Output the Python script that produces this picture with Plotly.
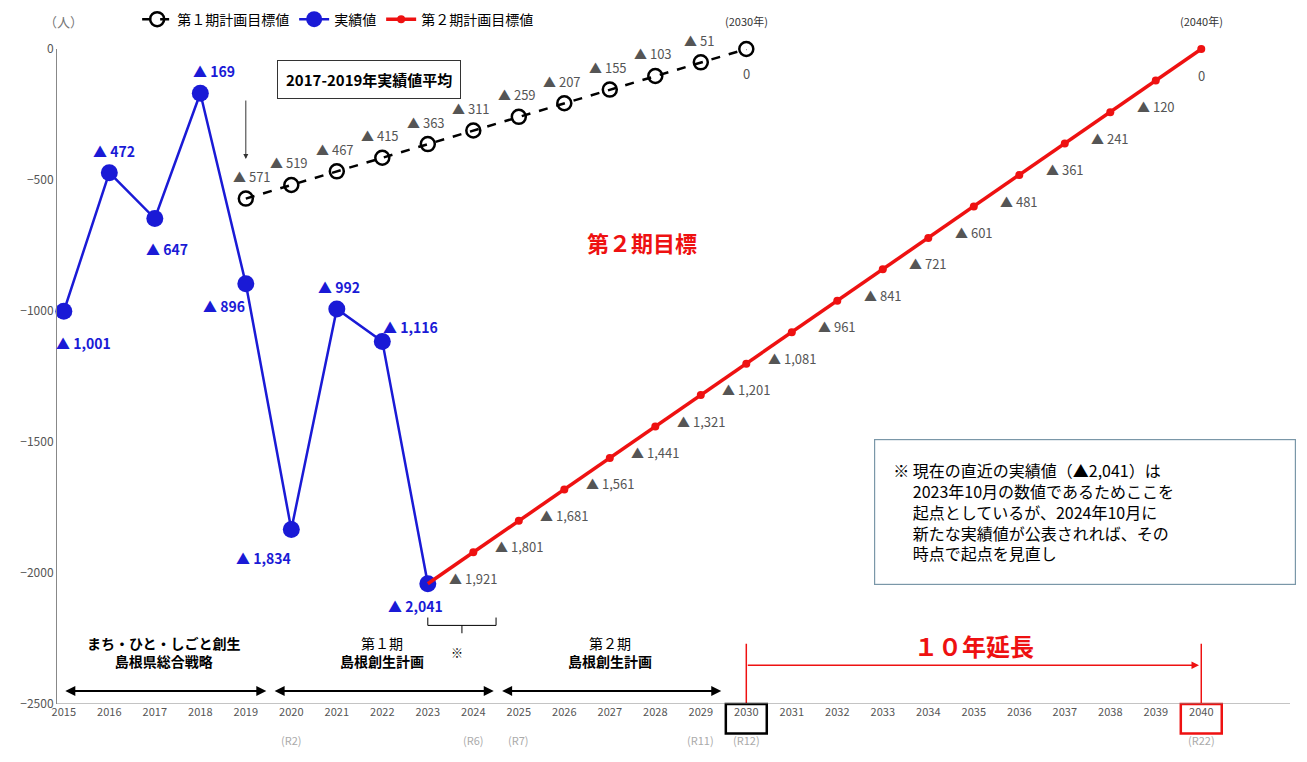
import plotly.graph_objects as go

FONT = "Noto Sans CJK JP"

act_years = [2015, 2016, 2017, 2018, 2019, 2020, 2021, 2022, 2023]
act_vals = [-1001, -472, -647, -169, -896, -1834, -992, -1116, -2041]
act_labels = ["▲ 1,001", "▲ 472", "▲ 647", "▲ 169", "▲ 896", "▲ 1,834", "▲ 992", "▲ 1,116", "▲ 2,041"]
act_shift = [(20, -32), (5, 22), (12, -30), (14, 22), (-22, -22), (-28, -28), (2, 22), (28, 14), (-12, -22)]

p1_years = list(range(2019, 2031))
p1_vals = [-571, -519, -467, -415, -363, -311, -259, -207, -155, -103, -51, 0]
p1_labels = ["▲ 571", "▲ 519", "▲ 467", "▲ 415", "▲ 363", "▲ 311", "▲ 259", "▲ 207", "▲ 155", "▲ 103", "▲ 51", "0"]

p2_years = list(range(2023, 2041))
p2_vals = [-2041, -1921, -1801, -1681, -1561, -1441, -1321, -1201, -1081, -961, -841, -721, -601, -481, -361, -241, -120, 0]
p2_labels = [None, "▲ 1,921", "▲ 1,801", "▲ 1,681", "▲ 1,561", "▲ 1,441", "▲ 1,321", "▲ 1,201", "▲ 1,081",
             "▲ 961", "▲ 841", "▲ 721", "▲ 601", "▲ 481", "▲ 361", "▲ 241", "▲ 120", "0"]

reiwa = {2020: "(R2)", 2024: "(R6)", 2025: "(R7)", 2029: "(R11)", 2030: "(R12)", 2040: "(R22)"}

fig = go.Figure()
fig.add_trace(go.Scatter(x=p1_years, y=p1_vals, mode="lines+markers", name="第１期計画目標値",
                         line=dict(color="black", width=2.5, dash="dash"),
                         marker=dict(symbol="circle-open", size=14, color="black", line=dict(width=2.5)),
                         cliponaxis=False))
fig.add_trace(go.Scatter(x=act_years, y=act_vals, mode="lines+markers", name="実績値",
                         line=dict(color="#1a1ad6", width=2.5), marker=dict(size=17, color="#1a1ad6"),
                         cliponaxis=False))
fig.add_trace(go.Scatter(x=p2_years[1:], y=p2_vals[1:], mode="lines+markers", name="第２期計画目標値",
                         line=dict(color="#ee1111", width=3.5), marker=dict(size=8, color="#ee1111"),
                         cliponaxis=False))
fig.add_trace(go.Scatter(x=p2_years[:2], y=p2_vals[:2], mode="lines", showlegend=False,
                         line=dict(color="#ee1111", width=3.5)))

ann = []
for x, y, t, (dx, dy) in zip(act_years, act_vals, act_labels, act_shift):
    ann.append(dict(x=x, y=y, text="<b>" + t + "</b>", showarrow=False, xshift=dx, yshift=dy,
                    font=dict(color="#1a1ad6", size=14)))
for i, (x, y, t) in enumerate(zip(p1_years, p1_vals, p1_labels)):
    if t == "0":
        ann.append(dict(x=x, y=y, text=t, showarrow=False, yshift=-24, font=dict(color="#555", size=13)))
    else:
        ann.append(dict(x=x, y=y, text=t, showarrow=False, xshift=-2 if i else 6, yshift=22,
                        font=dict(color="#555", size=13)))
for x, y, t in zip(p2_years, p2_vals, p2_labels):
    if t is None:
        continue
    ann.append(dict(x=x, y=y, text=t, showarrow=False, yshift=-26, font=dict(color="#555", size=13)))

note = ("※ 現在の直近の実績値（▲2,041）は<br>　 2023年10月の数値であるためここを<br>"
        "　 起点としているが、2024年10月に<br>　 新たな実績値が公表されれば、その<br>　 時点で起点を見直し")

ann += [
    dict(x=2019, y=-420, ax=0, ay=-60, text="", showarrow=True, arrowhead=2, arrowwidth=1, arrowcolor="#333"),
    dict(x=2021.7, y=-115, text="<b>2017-2019年実績値平均</b>", showarrow=False, bordercolor="#333", borderwidth=1,
         borderpad=8, bgcolor="white", font=dict(size=15, color="black")),
    dict(x=2027.7, y=-735, text="<b>第２期目標</b>", showarrow=False, font=dict(size=22, color="#ee1111")),
    dict(x=2037.45, y=-1767, text=note, showarrow=False, align="left", bordercolor="#7a97a8", borderwidth=1.2,
         borderpad=18, width=384, font=dict(size=16, color="black")),
    dict(xref="paper", yref="paper", x=-0.012, y=1.06, text="（人）", showarrow=False, font=dict(size=13, color="#777")),
    dict(x=2030, y=0, yshift=28, text="(2030年)", showarrow=False, font=dict(size=11, color="#333")),
    dict(x=2040, y=0, yshift=28, text="(2040年)", showarrow=False, font=dict(size=11, color="#333")),
    dict(x=2017.2, y=-2300, text="<b>まち・ひと・しごと創生<br>島根県総合戦略</b>", showarrow=False, font=dict(size=14, color="black")),
    dict(x=2022, y=-2300, text="第１期<br><b>島根創生計画</b>", showarrow=False, font=dict(size=14, color="black")),
    dict(x=2027, y=-2300, text="第２期<br><b>島根創生計画</b>", showarrow=False, font=dict(size=14, color="black")),
    dict(x=2023.65, y=-2305, text="※", showarrow=False, font=dict(size=12, color="black")),
    dict(x=2035, y=-2275, text="<b>１０年延長</b>", showarrow=False, font=dict(size=24, color="#ee1111")),
]
for x0, x1 in [(2015, 2019.45), (2019.6, 2024.45), (2024.6, 2029.45)]:
    ann.append(dict(x=x1, y=-2450, ax=x0, ay=-2450, axref="x", ayref="y", text="", showarrow=True,
                    arrowhead=2, startarrowhead=2, arrowside="end+start", arrowwidth=2, arrowcolor="black"))
ann.append(dict(x=2039.95, y=-2352, ax=2030, ay=-2352, axref="x", ayref="y", text="", showarrow=True,
                arrowhead=2, arrowwidth=1.5, arrowcolor="#ee1111"))
for yr, t in reiwa.items():
    ann.append(dict(x=yr, xref="x", yref="paper", y=-0.07, text=t, showarrow=False, font=dict(size=11, color="#aaa")))

shapes = [
    dict(type="line", x0=2023, x1=2024.5, y0=-2200, y1=-2200, line=dict(color="black", width=1)),
    dict(type="line", x0=2023, x1=2023, y0=-2200, y1=-2170, line=dict(color="black", width=1)),
    dict(type="line", x0=2024.5, x1=2024.5, y0=-2200, y1=-2170, line=dict(color="black", width=1)),
    dict(type="line", x0=2023.75, x1=2023.75, y0=-2200, y1=-2230, line=dict(color="black", width=1)),
    dict(type="line", x0=2030, x1=2030, y0=-2270, y1=-2500, line=dict(color="#ee1111", width=1.5)),
    dict(type="line", x0=2040, x1=2040, y0=-2270, y1=-2500, line=dict(color="#ee1111", width=1.5)),
    dict(type="rect", x0=2029.55, x1=2030.45, yref="paper", y0=0.0, y1=-0.045, line=dict(color="black", width=2.5)),
    dict(type="rect", x0=2039.55, x1=2040.45, yref="paper", y0=0.0, y1=-0.045, line=dict(color="#ee1111", width=2.5)),
    dict(type="line", xref="paper", x0=0, x1=1, y0=-2500, y1=-2500, line=dict(color="#888", width=1)),
]

fig.update_layout(
    width=1307, height=762, paper_bgcolor="white", plot_bgcolor="white",
    margin=dict(l=49, r=25, t=41, b=66, autoexpand=False),
    font=dict(family=FONT, color="#555"),
    annotations=ann, shapes=shapes,
    legend=dict(orientation="h", x=0.065, y=1.045, xanchor="left", yanchor="middle",
                font=dict(size=14, color="black")),
    xaxis=dict(range=[2014.85, 2041.95], tickmode="array", tickvals=list(range(2015, 2041)),
               showgrid=False, showline=False, ticks="", tickfont=dict(size=11, color="#555")),
    yaxis=dict(range=[-2500, 0], dtick=500, showgrid=False, zeroline=False, showline=True,
               linecolor="#888", tickfont=dict(size=12, color="#555"), ticks=""),
)

fig.write_html("out.html")
